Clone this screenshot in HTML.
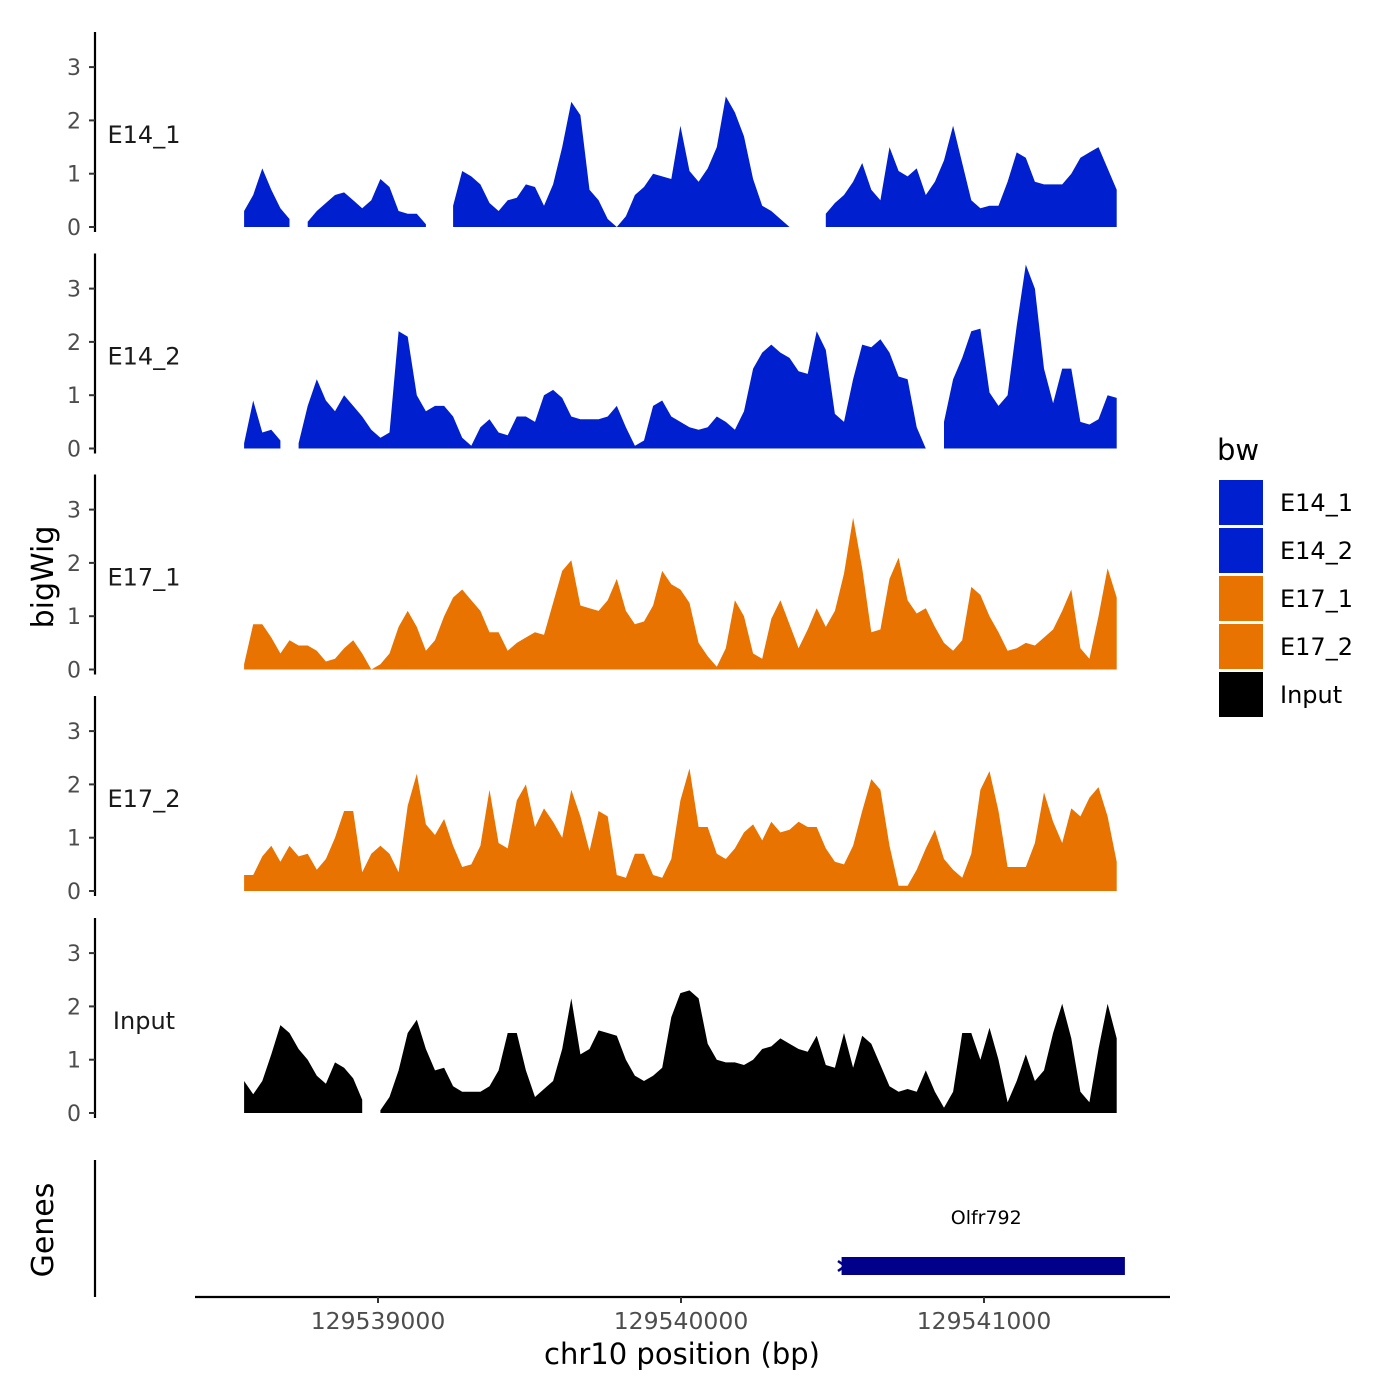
<!DOCTYPE html>
<html><head><meta charset="utf-8">
<style>
html,body{margin:0;padding:0;background:#fff;}
svg{display:block;font-family:"DejaVu Sans","Liberation Sans",sans-serif;}
</style></head>
<body>
<svg id="chart" width="1400" height="1400" viewBox="0 0 1400 1400"></svg>
<script>
const trackNames = ["E14_1","E14_2","E17_1","E17_2","Input"];
const trackColors = ["#0020D0","#0020D0","#E87300","#E87300","#000000"];
const binStart = 129538558;
const binStep = 30;
const xTicks = [129539000,129540000,129541000];
const yTicks = [0,1,2,3];
const e14_1 = [0.3,0.6,1.1,0.7,0.35,0.15,null,0.1,0.3,0.45,0.6,0.65,0.5,0.35,0.5,0.9,0.75,0.3,0.25,0.25,0.05,null,null,0.4,1.05,0.95,0.8,0.45,0.3,0.5,0.55,0.8,0.75,0.4,0.8,1.5,2.35,2.1,0.7,0.5,0.15,0.0,0.2,0.6,0.75,1.0,0.95,0.9,1.9,1.05,0.85,1.1,1.5,2.45,2.15,1.7,0.9,0.4,0.3,0.15,0.0,null,null,null,0.25,0.45,0.6,0.85,1.2,0.7,0.5,1.5,1.05,0.95,1.1,0.6,0.85,1.25,1.9,1.2,0.5,0.35,0.4,0.4,0.85,1.4,1.3,0.85,0.8,0.8,0.8,1.0,1.3,1.4,1.5,1.1,0.7];
const e14_2 = [0.1,0.9,0.3,0.35,0.15,null,0.1,0.8,1.3,0.9,0.7,1.0,0.8,0.6,0.35,0.2,0.3,2.2,2.1,1.0,0.7,0.8,0.8,0.6,0.2,0.05,0.4,0.55,0.3,0.25,0.6,0.6,0.5,1.0,1.1,0.95,0.6,0.55,0.55,0.55,0.6,0.8,0.4,0.05,0.15,0.8,0.9,0.6,0.5,0.4,0.35,0.4,0.6,0.5,0.35,0.7,1.5,1.8,1.95,1.8,1.7,1.45,1.4,2.2,1.85,0.65,0.5,1.3,1.95,1.9,2.05,1.8,1.35,1.3,0.4,0.0,null,0.5,1.3,1.7,2.2,2.25,1.05,0.8,1.0,2.3,3.45,3.0,1.5,0.85,1.5,1.5,0.5,0.45,0.55,1.0,0.95];
const e17_1 = [0.1,0.85,0.85,0.6,0.3,0.55,0.45,0.45,0.35,0.15,0.2,0.4,0.55,0.3,0.0,0.1,0.3,0.8,1.1,0.8,0.35,0.55,1.0,1.35,1.5,1.3,1.1,0.7,0.7,0.35,0.5,0.6,0.7,0.65,1.25,1.85,2.05,1.2,1.15,1.1,1.3,1.7,1.1,0.85,0.9,1.2,1.85,1.6,1.5,1.25,0.5,0.25,0.05,0.4,1.3,1.0,0.3,0.2,0.95,1.3,0.85,0.4,0.75,1.15,0.8,1.1,1.8,2.85,1.9,0.7,0.75,1.7,2.1,1.3,1.05,1.15,0.8,0.5,0.35,0.55,1.55,1.4,1.0,0.7,0.35,0.4,0.5,0.45,0.6,0.75,1.1,1.5,0.4,0.2,1.0,1.9,1.35];
const e17_2 = [0.3,0.3,0.65,0.85,0.55,0.85,0.65,0.7,0.4,0.6,1.0,1.5,1.5,0.35,0.7,0.85,0.7,0.35,1.6,2.2,1.25,1.05,1.35,0.85,0.45,0.5,0.85,1.9,0.9,0.8,1.7,2.0,1.2,1.55,1.3,1.0,1.9,1.4,0.75,1.5,1.4,0.3,0.25,0.7,0.7,0.3,0.25,0.6,1.7,2.3,1.2,1.2,0.7,0.6,0.8,1.1,1.25,0.95,1.3,1.1,1.15,1.3,1.2,1.2,0.8,0.55,0.5,0.85,1.5,2.1,1.9,0.85,0.1,0.1,0.4,0.8,1.15,0.6,0.4,0.25,0.7,1.9,2.25,1.5,0.45,0.45,0.45,0.9,1.85,1.3,0.9,1.55,1.4,1.75,1.95,1.4,0.55];
const input = [0.6,0.35,0.6,1.1,1.65,1.5,1.2,1.0,0.7,0.55,0.95,0.85,0.65,0.25,null,0.05,0.3,0.8,1.5,1.75,1.2,0.8,0.85,0.5,0.4,0.4,0.4,0.5,0.8,1.5,1.5,0.8,0.3,0.45,0.6,1.2,2.15,1.1,1.2,1.55,1.5,1.45,1.0,0.7,0.6,0.7,0.85,1.8,2.25,2.3,2.15,1.3,1.0,0.95,0.95,0.9,1.0,1.2,1.25,1.4,1.3,1.2,1.15,1.45,0.9,0.85,1.5,0.85,1.45,1.3,0.9,0.5,0.4,0.45,0.4,0.8,0.4,0.1,0.4,1.5,1.5,1.0,1.6,1.0,0.2,0.6,1.1,0.6,0.8,1.5,2.05,1.4,0.4,0.2,1.2,2.05,1.4];
const trackValues = [e14_1,e14_2,e17_1,e17_2,input];
const legendLabels = ["E14_1","E14_2","E17_1","E17_2","Input"];
const geneName = "Olfr792";
const geneStart = 129540530;
const geneEnd = 129541465;

const NS="http://www.w3.org/2000/svg";
const svg=document.getElementById('chart');
function mk(tag,attrs,parent){const e=document.createElementNS(NS,tag);for(const k in attrs)e.setAttribute(k,attrs[k]);(parent||svg).appendChild(e);return e;}
const xScale = bp => 378 + (bp-129539000)*0.303;
const panelZero = [227,448.5,669.5,891,1113];
const yUnit = 53.3;

trackValues.forEach((vals,t)=>{
  const g=mk('g',{});
  
  
  const z=panelZero[t];
  const yS=v=>z-v*yUnit;
  let seg=[];
  const flush=()=>{
    if(seg.length>1){
      let d='M'+seg[0][0].toFixed(1)+','+z;
      seg.forEach(p=>d+='L'+p[0].toFixed(1)+','+yS(p[1]).toFixed(1));
      d+='L'+seg[seg.length-1][0].toFixed(1)+','+z+'Z';
      const p=mk('path',{d:d,fill:trackColors[t]},g);
      
      
    }
    seg=[];
  };
  vals.forEach((v,i)=>{
    const x=xScale(binStart+i*binStep);
    if(v===null) flush(); else seg.push([x,v]);
  });
  flush();
  const ax=mk('line',{x1:95,x2:95,y1:z-195,y2:z+5,stroke:'#000','stroke-width':2.2},g);
  
  
  yTicks.forEach(tv=>{
    const y=yS(tv);
    mk('line',{x1:89,x2:95,y1:y,y2:y,stroke:'#333','stroke-width':2},g);
    const tx=mk('text',{x:81,y:y+8,'text-anchor':'end','font-size':22,fill:'#4d4d4d'},g);
    tx.textContent=tv;
    
    
  });
  const lb=mk('text',{x:144,y:z-84,'text-anchor':'middle','font-size':24,fill:'#1a1a1a'},g);
  lb.textContent=trackNames[t];
  
  
});

const ga=mk('line',{x1:95,x2:95,y1:1160,y2:1297,stroke:'#000','stroke-width':2.2});


const gr=mk('rect',{x:xScale(geneStart),y:1257,width:xScale(geneEnd)-xScale(geneStart),height:18,fill:'#00008B'});


mk('path',{d:'M838,1261L845,1266L838,1271',stroke:'#00008B','stroke-width':2.5,fill:'none'});
const gt=mk('text',{x:(xScale(geneStart)+xScale(geneEnd))/2+3,y:1224,'text-anchor':'middle','font-size':19,fill:'#000'});
gt.textContent=geneName;



const xa=mk('line',{x1:195,x2:1170,y1:1297,y2:1297,stroke:'#000','stroke-width':2.2});


xTicks.forEach(v=>{
  const x=xScale(v);
  mk('line',{x1:x,x2:x,y1:1297,y2:1303,stroke:'#333','stroke-width':2});
  const t=mk('text',{x:x,y:1329,'text-anchor':'middle','font-size':23.5,fill:'#4d4d4d'});
  t.textContent=v;
  
  
});
const xt=mk('text',{x:682,y:1364,'text-anchor':'middle','font-size':29,fill:'#000'});
xt.textContent='chr10 position (bp)';


const yt=mk('text',{x:0,y:0,transform:'translate(53,577) rotate(-90)','text-anchor':'middle','font-size':30,fill:'#000'});
yt.textContent='bigWig';


const gy=mk('text',{x:0,y:0,transform:'translate(53,1230) rotate(-90)','text-anchor':'middle','font-size':30,fill:'#000'});
gy.textContent='Genes';



const lt=mk('text',{x:1217,y:460,'font-size':29,fill:'#000'});
lt.textContent='bw';


legendLabels.forEach((l,i)=>{
  const y=480+i*48;
  const r=mk('rect',{x:1219,y:y,width:44,height:45,fill:trackColors[i]});
  
  
  const t=mk('text',{x:1280,y:y+31,'font-size':24,fill:'#000'});
  t.textContent=l;
  
  
});
</script>
</body></html>
